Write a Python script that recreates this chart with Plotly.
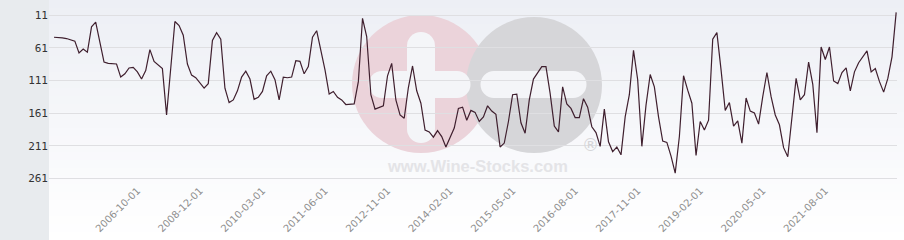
import plotly.graph_objects as go

# ---- data ----
values = [
    45, 45, 46, 47, 49, 51, 69, 63, 68, 29,
    22, 52, 83, 85, 86, 86, 106, 101, 92, 91,
    98, 109, 96, 64, 82, 88, 93, 164, 90, 21,
    27, 42, 86, 103, 107, 115, 123, 116, 50, 38,
    48, 123, 145, 141, 127, 106, 97, 109, 140, 137,
    128, 104, 97, 110, 141, 106, 107, 106, 81, 82,
    101, 90, 45, 35, 65, 95, 132, 128, 137, 141,
    148, 147, 147, 113, 16, 44, 133, 155, 152, 150,
    104, 85, 141, 164, 169, 122, 89, 127, 146, 187,
    190, 198, 188, 197, 213, 198, 184, 154, 152, 172,
    157, 160, 174, 167, 150, 158, 163, 213, 207, 174,
    133, 132, 176, 192, 141, 109, 99, 90, 90, 131,
    181, 190, 121, 147, 154, 168, 168, 139, 152, 182,
    191, 212, 155, 205, 220, 213, 225, 167, 133, 65,
    110, 212, 149, 102, 121, 167, 204, 206, 227, 253,
    197, 104, 126, 146, 226, 174, 187, 172, 48, 38,
    95, 157, 145, 181, 173, 207, 138, 158, 161, 178,
    136, 99, 136, 164, 179, 214, 228, 167, 108, 141,
    133, 83, 117, 191, 60, 79, 60, 112, 116, 99,
    92, 127, 98, 84, 75, 66, 98, 93, 113, 129,
    108, 75, 7,
]
x_idx = list(range(len(values)))

tick_pos = [20, 35, 50, 65, 80, 95, 110, 125, 140, 155, 170, 185]
tick_labels = [
    "2006-10-01", "2008-12-01", "2010-03-01", "2011-06-01",
    "2012-11-01", "2014-02-01", "2015-05-01", "2016-08-01",
    "2017-11-01", "2019-02-01", "2020-05-01", "2021-08-01",
]
y_ticks = [11, 61, 111, 161, 211, 261]

# ---- layout geometry (pixels) ----
W, H = 904, 240
ML, MR, MT, MB = 49, 7, 0, 58
PW, PH = W - ML - MR, H - MT - MB


def fx(px):
    return (px - ML) / PW


def fy(py):
    return 1 - (py - MT) / PH


shapes = []

# gradient background (decoration)
N = 30
top = (237, 239, 245)
bot = (255, 255, 255)
for k in range(N):
    t = k / (N - 1)
    c = tuple(round(top[j] + (bot[j] - top[j]) * t) for j in range(3))
    y0 = H * k / N
    y1 = H * (k + 1) / N + 1
    shapes.append(dict(type="rect", xref="paper", yref="paper",
                       x0=fx(ML), x1=fx(W), y0=fy(y1), y1=fy(y0),
                       fillcolor="rgb(%d,%d,%d)" % c, line=dict(width=0),
                       layer="below"))

# left grey panel
shapes.append(dict(type="rect", xref="paper", yref="paper",
                   x0=fx(0), x1=fx(ML), y0=fy(H), y1=fy(0),
                   fillcolor="#e8ebee", line=dict(width=0), layer="below"))


def circle(cx, cy, r, color):
    return dict(type="circle", xref="paper", yref="paper",
                x0=fx(cx - r), x1=fx(cx + r), y0=fy(cy + r), y1=fy(cy - r),
                fillcolor=color, line=dict(width=0), layer="below")


def rect(x0, x1, y0, y1, color):
    return dict(type="rect", xref="paper", yref="paper",
                x0=fx(x0), x1=fx(x1), y0=fy(y1), y1=fy(y0),
                fillcolor=color, line=dict(width=0), layer="below")


pink = "#ebd3da"
grey = "#d6d6d9"
hole = "#f4f5f8"
shapes.append(circle(421, 84, 69, pink))
shapes.append(circle(534, 85, 68, grey))
# plus sign (white)
shapes.append(rect(407, 435, 46, 129, hole))
shapes.append(circle(421, 46, 14, hole))
shapes.append(circle(421, 129, 14, hole))
shapes.append(rect(382, 457, 71, 98, hole))
shapes.append(circle(382, 84.5, 13.5, hole))
shapes.append(circle(457, 84.5, 13.5, hole))
# minus sign (white)
shapes.append(rect(494, 573, 71, 98, hole))
shapes.append(circle(494, 84.5, 13.5, hole))
shapes.append(circle(573, 84.5, 13.5, hole))

annotations = [
    dict(text="<b>www.Wine-Stocks.com</b>", xref="paper", yref="paper",
         x=fx(477), y=fy(166), showarrow=False, xanchor="center", yanchor="middle",
         font=dict(family="Liberation Sans, Arial", size=16.5, color="#e4e4e7")),
    dict(text="®", xref="paper", yref="paper",
         x=fx(590), y=fy(145), showarrow=False, xanchor="center", yanchor="middle",
         font=dict(family="DejaVu Sans", size=17, color="#d5d5d8")),
]

fig = go.Figure()
fig.add_trace(go.Scatter(
    x=x_idx, y=values, mode="lines",
    line=dict(color="#3f1f2e", width=1.2),
    hoverinfo="skip", showlegend=False,
))

fig.update_layout(
    width=W, height=H,
    margin=dict(l=ML, r=MR, t=MT, b=MB, pad=0),
    paper_bgcolor="white",
    plot_bgcolor="rgba(0,0,0,0)",
    shapes=shapes,
    annotations=annotations,
    showlegend=False,
    xaxis=dict(
        range=[-1.2, 202.2],
        tickmode="array", tickvals=tick_pos, ticktext=tick_labels,
        tickangle=-45, showgrid=False, zeroline=False, showline=False,
        ticks="", tickfont=dict(family="DejaVu Sans", size=10, color="#8e8e8e"),
    ),
    yaxis=dict(
        range=[266.6, -12],
        tickmode="array", tickvals=y_ticks,
        ticktext=[str(v) for v in y_ticks],
        showgrid=True, gridcolor="#dfdfe2", gridwidth=1,
        zeroline=False, showline=False, ticks="",
        tickfont=dict(family="DejaVu Sans Mono", size=11, color="#333333"),
    ),
)

fig.write_html("out.html")
